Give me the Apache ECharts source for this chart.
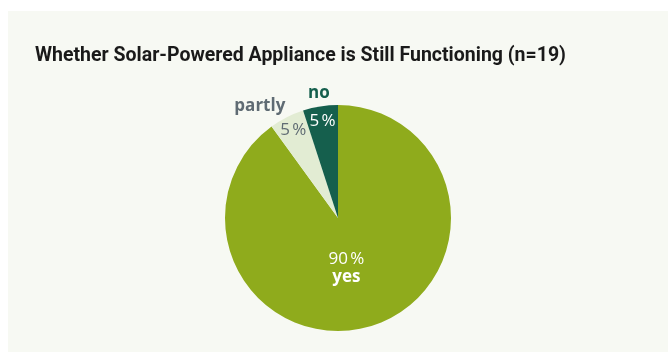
<!DOCTYPE html>
<html><head><meta charset="utf-8">
<script src="https://cdn.jsdelivr.net/npm/echarts@6/dist/echarts.min.js"></script>
<style>
html,body{margin:0;padding:0;background:#fff;width:668px;height:359px;overflow:hidden}
#c{position:absolute;left:8px;top:11px;width:660px;height:341px;background:#f7f9f3}
</style></head><body><div id="c"></div>
<script>
const titleText = 'Whether Solar-Powered Appliance is Still Functioning (n=19)';
const categories = ['yes', 'partly', 'no'];
const percents = [90, 5, 5];
const colors = ['#8fab1c', '#e2ecd3', '#155f4d'];
const valueLabelColors = ['#ffffff', '#5f6b73', '#ffffff'];
const nameLabelColors = ['#ffffff', '#5f6b73', '#155f4d'];

const FONT = '"Open Sans", "Noto Sans", sans-serif';
const TITLE_FONT = 'Roboto, "Open Sans", sans-serif';
const NBSP = '\u202F';
const chart = echarts.init(document.getElementById('c'), null, {renderer: 'canvas'});
const center = [330, 207];
const R = 113;

// small visual nudges for the labels (by data index)
const outerNudge = [[0, 0], [16, -9], [14, -3]];
const bigNudge = [-10, -6];

const baseData = categories.map((c, i) => ({name: c, value: percents[i], itemStyle: {color: colors[i]}}));

const bigLabelData = categories.map((c, i) => ({
  name: c, value: percents[i],
  label: i === 0 ? {show: true} : {show: false}
}));
const smallLabelData = categories.map((c, i) => ({
  name: c, value: percents[i],
  label: i === 0 ? {show: false} : {show: true, color: valueLabelColors[i]}
}));
const outerLabelData = categories.map((c, i) => ({
  name: c, value: percents[i],
  label: i === 0 ? {show: false} : {show: true, color: nameLabelColors[i]}
}));

chart.setOption({
  animation: false,
  title: {
    text: titleText, left: 27, top: 35, padding: 0,
    textStyle: {fontFamily: TITLE_FONT, fontSize: 19.5, fontWeight: 'bold', color: '#1a1a1a'}
  },
  series: [
    {
      type: 'pie', center: center, radius: [0, R], startAngle: 90, clockwise: true,
      silent: true, label: {show: false}, labelLine: {show: false},
      itemStyle: {borderWidth: 0},
      data: baseData
    },
    {
      type: 'pie', center: center, radius: [0, R], startAngle: 90, clockwise: true,
      silent: true, itemStyle: {color: 'rgba(0,0,0,0)'},
      label: {
        position: 'inside',
        formatter: p => '{v|' + p.value + NBSP + '%}\n{n|' + p.name + '}',
        rich: {
          v: {fontFamily: FONT, fontSize: 17, color: '#ffffff', lineHeight: 18},
          n: {fontFamily: FONT, fontSize: 17, fontWeight: 'bold', color: '#ffffff', lineHeight: 18}
        }
      },
      labelLayout: () => ({dx: bigNudge[0], dy: bigNudge[1]}),
      labelLine: {show: false},
      data: bigLabelData
    },
    {
      type: 'pie', center: center, radius: [78, R], startAngle: 90, clockwise: true,
      silent: true, itemStyle: {color: 'rgba(0,0,0,0)'},
      label: {
        position: 'inside',
        formatter: p => p.value + NBSP + '%',
        fontFamily: FONT, fontSize: 17
      },
      labelLine: {show: false},
      data: smallLabelData
    },
    {
      type: 'pie', center: center, radius: [0, R], startAngle: 90, clockwise: true,
      silent: true, itemStyle: {color: 'rgba(0,0,0,0)'},
      label: {
        position: 'outside', formatter: '{b}',
        fontFamily: FONT, fontSize: 17, fontWeight: 'bold', distanceToLabelLine: 3
      },
      labelLayout: p => {
        const n = outerNudge[p.dataIndex] || [0, 0];
        return {dx: n[0], dy: n[1]};
      },
      labelLine: {show: false, length: 10, length2: 0},
      data: outerLabelData
    }
  ]
});
</script></body></html>
